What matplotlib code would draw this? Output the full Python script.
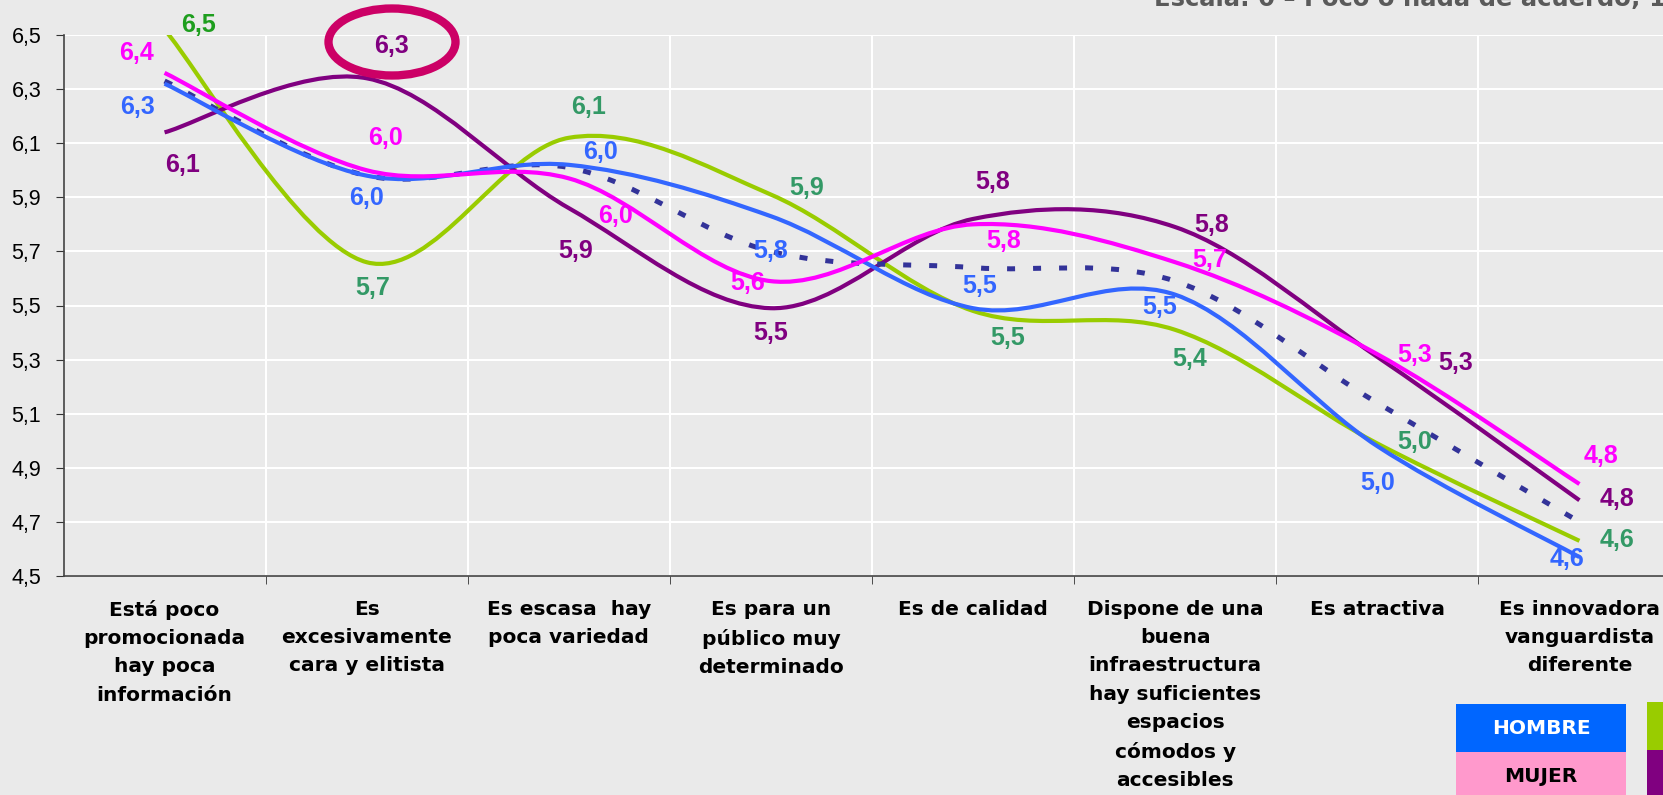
import matplotlib
matplotlib.use("Agg")
import matplotlib.pyplot as plt
from matplotlib.path import Path
from matplotlib.patches import PathPatch, Ellipse, Rectangle

W, H = 1663, 795
BG = "#EAEAEA"

categories = [
    "Está poco\npromocionada\nhay poca\ninformación",
    "Es\nexcesivamente\ncara y elitista",
    "Es escasa  hay\npoca variedad",
    "Es para un\npúblico muy\ndeterminado",
    "Es de calidad",
    "Dispone de una\nbuena\ninfraestructura\nhay suficientes\nespacios\ncómodos y\naccesibles",
    "Es atractiva",
    "Es innovadora\nvanguardista\ndiferente",
]

hombre = [6.32, 5.98, 6.02, 5.83, 5.49, 5.54, 4.98, 4.57]
mujer = [6.36, 6.00, 5.97, 5.59, 5.80, 5.66, 5.32, 4.84]
grupo_verde = [6.52, 5.66, 6.12, 5.91, 5.48, 5.41, 4.99, 4.63]
grupo_morado = [6.14, 6.34, 5.86, 5.49, 5.82, 5.79, 5.31, 4.78]
total = [6.33, 5.98, 6.01, 5.70, 5.64, 5.59, 5.14, 4.70]

yticks = [4.5, 4.7, 4.9, 5.1, 5.3, 5.5, 5.7, 5.9, 6.1, 6.3, 6.5]

# label offsets in pixels (dx right, dy down) from each point
off_hombre = [(-27, 23), (0, 22), (32, -13), (0, 35), (7, -22), (-16, 12), (0, 37), (-12, 2)]
off_mujer = [(-28, -20), (19, -32), (47, 38), (-23, 2), (31, 17), (35, -2), (37, 1), (22, -28)]
off_verde = [(34, -5), (6, 26), (20, -31), (36, -7), (35, 27), (14, 29), (37, -1), (38, -1)]
off_morado = [(18, 33), (25, -32), (7, 43), (0, 25), (20, -37), (36, -2), (78, 6), (38, -1)]


def smooth_path(xs, ys):
    # Excel style smoothed line: cubic bezier segments (catmull-rom)
    pts = list(zip(xs, ys))
    n = len(pts)
    verts = [pts[0]]
    codes = [Path.MOVETO]
    for i in range(n - 1):
        p0 = pts[i - 1] if i > 0 else pts[i]
        p1 = pts[i]
        p2 = pts[i + 1]
        p3 = pts[i + 2] if i + 2 < n else pts[i + 1]
        c1 = (p1[0] + (p2[0] - p0[0]) / 6, p1[1] + (p2[1] - p0[1]) / 6)
        c2 = (p2[0] - (p3[0] - p1[0]) / 6, p2[1] - (p3[1] - p1[1]) / 6)
        verts += [c1, c2, p2]
        codes += [Path.CURVE4] * 3
    return Path(verts, codes)


fig = plt.figure(figsize=(W / 100, H / 100), dpi=100, facecolor=BG)
ax = fig.add_axes([63.5 / W, (H - 576) / H, 1617 / W, 541 / H])
ax.set_facecolor(BG)

xs = [i + 0.5 for i in range(len(categories))]

series = [
    (grupo_verde, "#99CC00", "-", "#339966", off_verde),
    (grupo_morado, "#800080", "-", "#800080", off_morado),
    (total, "#333399", "--", None, None),
    (hombre, "#3366FF", "-", "#3366FF", off_hombre),
    (mujer, "#FF00FF", "-", "#FF00FF", off_mujer),
]

for vals, col, ls, lab_col, offs in series:
    patch = PathPatch(smooth_path(xs, vals), facecolor="none", edgecolor=col,
                      lw=3.0, zorder=3)
    if ls == "--":
        patch.set_linewidth(3.6)
        patch.set_linestyle((0, (1.6, 3.6)))
        patch.set_capstyle("butt")
    ax.add_patch(patch)
    if offs is None:
        continue
    for i, (x, v) in enumerate(zip(xs, vals)):
        c = lab_col
        if vals is grupo_verde and i == 0:
            c = "#1E9E1E"
        ax.annotate(f"{v:.1f}".replace(".", ","), (x, v),
                    xytext=(offs[i][0], -offs[i][1]), textcoords="offset pixels",
                    ha="center", va="center", color=c, fontsize=18,
                    fontweight="bold", family="Liberation Sans", zorder=5,
                    annotation_clip=False)

ax.set_xlim(0, 8)
ax.set_ylim(4.5, 6.5)
ax.set_yticks(yticks)
ax.set_yticklabels([f"{t:.1f}".replace(".", ",") for t in yticks],
                   family="Liberation Sans", fontsize=15.5)
ax.set_xticks(xs)
ax.set_xticklabels(categories, fontsize=14.5, fontweight="bold",
                   family="DejaVu Sans", linespacing=1.62)
ax.set_xticks(range(1, 8), minor=True)
ax.tick_params(axis="x", which="major", length=0, pad=17)
ax.tick_params(axis="x", which="minor", length=6, color="#333333", direction="out")
ax.tick_params(axis="y", length=6, color="#333333", pad=10)

ax.grid(axis="y", color="white", lw=1.5, zorder=0)
ax.grid(axis="x", which="minor", color="white", lw=1.5, zorder=0)
ax.set_axisbelow(True)
for s in ["top", "right"]:
    ax.spines[s].set_visible(False)
for s in ["left", "bottom"]:
    ax.spines[s].set_color("#444444")
    ax.spines[s].set_linewidth(1.2)

# highlight ellipse
fig.add_artist(Ellipse((392 / W, (H - 42) / H), 127 / W, 67 / H,
                       transform=fig.transFigure, fill=False,
                       edgecolor="#CC0066", lw=6))

# scale note, cut at the top edge as in the source
fig.text(1154 / W, (H - 6) / H, "Escala: 0 – Poco o nada de acuerdo; 10 – Muy de acuerdo",
         color="#5A5A5A", fontsize=17.5, fontweight="bold", va="baseline", ha="left")

# legend boxes
boxes = [
    (1456, 704, 170, 48, "#0066FF", "HOMBRE", "white"),
    (1456, 752, 170, 48, "#FF99CC", "MUJER", "black"),
    (1647, 702, 60, 48, "#99CC00", "", "black"),
    (1647, 750, 60, 50, "#800080", "", "white"),
]
for x0, y0, w, h, fc, txt, tc in boxes:
    fig.add_artist(Rectangle((x0 / W, (H - y0 - h) / H), w / W, h / H,
                             transform=fig.transFigure, facecolor=fc, edgecolor="none"))
    if txt:
        fig.text((x0 + w / 2) / W, (H - y0 - h / 2) / H, txt, color=tc,
                 fontsize=14.5, fontweight="bold", ha="center", va="center")

fig.savefig("out.png", dpi=100, facecolor=BG)
